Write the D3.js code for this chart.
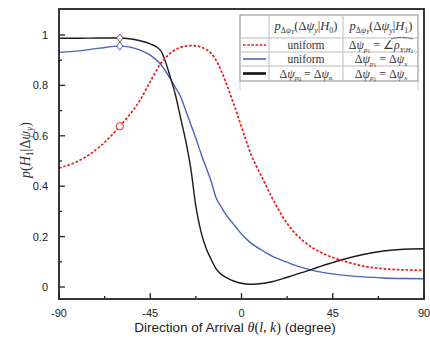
<!DOCTYPE html>
<html><head><meta charset="utf-8">
<script src="https://cdn.jsdelivr.net/npm/d3@7"></script>
<style>body{margin:0;background:#fff}svg{display:block}</style>
</head><body>
<svg id="c" width="430" height="342"></svg>
<script>
const theta = [-90,-80,-70,-60,-50,-45,-40,-35,-32.5,-30,-27.5,-25,-22.5,-20,-17.5,-15,-12.5,-10,-7.5,-5,-2.5,0,2.5,5,7.5,10,12.5,15,17.5,20,25,30,35,40,45,50,60,70,80,90];
const redUniformHat = [0.472,0.502,0.556,0.638,0.742,0.815,0.885,0.928,0.942,0.951,0.956,0.958,0.957,0.952,0.943,0.927,0.899,0.858,0.808,0.752,0.695,0.635,0.575,0.52,0.477,0.437,0.395,0.355,0.318,0.283,0.226,0.186,0.156,0.134,0.117,0.104,0.083,0.072,0.068,0.066];
const blueUniformX = [0.931,0.937,0.948,0.956,0.94,0.92,0.885,0.825,0.79,0.755,0.70,0.645,0.59,0.53,0.475,0.42,0.353,0.318,0.285,0.26,0.235,0.21,0.19,0.172,0.158,0.146,0.134,0.123,0.114,0.106,0.09,0.077,0.066,0.058,0.052,0.047,0.04,0.036,0.034,0.033];
const blackNX = [0.987,0.987,0.988,0.988,0.977,0.965,0.94,0.83,0.76,0.67,0.58,0.47,0.32,0.22,0.155,0.11,0.072,0.05,0.037,0.027,0.02,0.015,0.012,0.011,0.012,0.014,0.017,0.021,0.026,0.032,0.045,0.058,0.071,0.085,0.097,0.109,0.129,0.143,0.15,0.152];
const markerTheta = -60;
const xTicks = [-90,-45,0,45,90];
const xMinor = [-67.5,-22.5,22.5,67.5];
const yTicks = [0,0.2,0.4,0.6,0.8,1];
const yTickLabels = ["0","0.2","0.4","0.6","0.8","1"];
const yMinor = [0.1,0.3,0.5,0.7,0.9];

const svg = d3.select("#c");
const L=59,R=424,T=9,B=299;
const x = d3.scaleLinear().domain([-90,90]).range([L,R]);
const y = d3.scaleLinear().domain([0,1]).range([287,35]);

const series = [
  {v: redUniformHat, color:"#f01818", dash:"2.6,1.8", w:1.7, marker:"circle"},
  {v: blueUniformX, color:"#4a64bd", dash:null, w:1.4, marker:"diamond", mstroke:"#4a64bd"},
  {v: blackNX, color:"#1a1a1a", dash:null, w:1.4, marker:"diamond", mstroke:"#555"}
];
const line = d3.line().x(d=>x(d[0])).y(d=>y(d[1])).curve(d3.curveMonotoneX);
const g = svg.append("g");
g.append("defs").append("clipPath").attr("id","cp").append("rect").attr("x",L).attr("y",T).attr("width",R-L).attr("height",B-T);
const plot = g.append("g").attr("clip-path","url(#cp)");
[series[1],series[2],series[0]].forEach(s=>{
  const pts = theta.map((t,i)=>[t,s.v[i]]);
  const p = plot.append("path").attr("d",line(pts)).attr("fill","none").attr("stroke",s.color).attr("stroke-width",s.w);
  if(s.dash) p.attr("stroke-dasharray",s.dash);
  const mi = theta.indexOf(markerTheta);
  const mx = x(markerTheta), my = y(s.v[mi]);
  if(s.marker==="circle"){
    plot.append("circle").attr("cx",mx).attr("cy",my).attr("r",3.6).attr("fill","#fff").attr("stroke",s.color).attr("stroke-width",1);
  } else {
    const r=4;
    plot.append("path").attr("d",`M${mx},${my-r}L${mx+r*0.8},${my}L${mx},${my+r}L${mx-r*0.8},${my}Z`).attr("fill","#fff").attr("stroke",s.mstroke).attr("stroke-width",1);
  }
});

g.append("rect").attr("x",L).attr("y",T).attr("width",R-L).attr("height",B-T).attr("fill","none").attr("stroke","#222").attr("stroke-width",1.8);

const tk = g.append("g").attr("stroke","#222").attr("stroke-width",1.3);
xTicks.forEach(t=>tk.append("line").attr("x1",x(t)).attr("x2",x(t)).attr("y1",B).attr("y2",B-6));
xMinor.forEach(t=>tk.append("line").attr("x1",x(t)).attr("x2",x(t)).attr("y1",B).attr("y2",B-3));
yTicks.forEach(t=>tk.append("line").attr("x1",L).attr("x2",L+6).attr("y1",y(t)).attr("y2",y(t)));
yMinor.forEach(t=>tk.append("line").attr("x1",L).attr("x2",L+3).attr("y1",y(t)).attr("y2",y(t)));

const sans = "'Liberation Sans', Arial, sans-serif";
xTicks.forEach(t=>g.append("text").attr("x",x(t)).attr("y",317).attr("text-anchor","middle").attr("font-family",sans).attr("font-size",11).attr("fill","#222").text(t));
yTicks.forEach((t,i)=>g.append("text").attr("x",48).attr("y",y(t)+4).attr("text-anchor","end").attr("font-family",sans).attr("font-size",11).attr("fill","#222").text(yTickLabels[i]));

const xl = g.append("text").attr("x",235).attr("y",332).attr("text-anchor","middle").attr("font-family",sans).attr("font-size",13.5).attr("fill","#222");
xl.append("tspan").text("Direction of Arrival ");
xl.append("tspan").attr("font-family","'Liberation Serif', serif").attr("font-style","italic").attr("font-size",14).text("θ");
xl.append("tspan").attr("font-family","'Liberation Serif', serif").attr("font-size",14).text("(");
xl.append("tspan").attr("font-family","'Liberation Serif', serif").attr("font-style","italic").attr("font-size",14).text("l, k");
xl.append("tspan").attr("font-family","'Liberation Serif', serif").attr("font-size",14).text(")");
xl.append("tspan").text(" (degree)");

const yl = g.append("text").attr("transform","translate(30,150) rotate(-90)").attr("text-anchor","middle").attr("font-family","'Liberation Serif', serif").attr("font-size",14).attr("fill","#333");
yl.append("tspan").attr("font-style","italic").text("p");
yl.append("tspan").text("(");
yl.append("tspan").attr("font-style","italic").text("H");
yl.append("tspan").attr("font-size",9.5).attr("dy",3).text("1");
yl.append("tspan").attr("dy",-3).text("|Δ");
yl.append("tspan").attr("font-style","italic").text("ψ");
yl.append("tspan").attr("font-style","italic").attr("font-size",9.5).attr("dy",3).text("y");
yl.append("tspan").attr("dy",-3).text(")");

// legend table
const lg = g.append("g");
const lx0=240, lx1=269, lx2=343, lx3=418, ly0=15, ly1=38, ly2=52, ly3=66, ly4=81;
lg.append("rect").attr("x",lx0).attr("y",ly0).attr("width",lx3-lx0).attr("height",ly4-ly0).attr("fill","#fff").attr("stroke","#888").attr("stroke-width",1);
[lx1,lx2].forEach(xx=>lg.append("line").attr("x1",xx).attr("x2",xx).attr("y1",ly0).attr("y2",ly4).attr("stroke","#bbb"));
[ly1,ly2,ly3].forEach(yy=>lg.append("line").attr("x1",lx0).attr("x2",lx3).attr("y1",yy).attr("y2",yy).attr("stroke","#bbb"));
lg.append("line").attr("x1",lx0).attr("x2",lx0).attr("y1",ly4).attr("y2",90).attr("stroke","#ccc");
lg.append("line").attr("x1",lx3).attr("x2",lx3).attr("y1",ly4).attr("y2",90).attr("stroke","#ccc");
const rowsY=[45,59,73.5];
const sampleStyle=[{c:"#f01818",d:"2.6,1.6",w:1.4},{c:"#4a64bd",d:null,w:1.6},{c:"#111",d:null,w:2.6}];
sampleStyle.forEach((s,i)=>{const l=lg.append("line").attr("x1",243).attr("x2",266).attr("y1",rowsY[i]).attr("y2",rowsY[i]).attr("stroke",s.c).attr("stroke-width",s.w); if(s.d) l.attr("stroke-dasharray",s.d);});
const mathFont="'Liberation Serif', serif";
function hdr(cx, h){
  const t=lg.append("text").attr("x",cx).attr("y",30).attr("text-anchor","middle").attr("font-family",mathFont).attr("font-size",12.5).attr("fill","#333");
  t.append("tspan").attr("font-style","italic").text("p");
  t.append("tspan").attr("font-size",8).attr("dy",2.5).text("Δ");
  t.append("tspan").attr("font-size",8).attr("font-style","italic").text("ψ");
  t.append("tspan").attr("font-size",6).attr("font-style","italic").attr("dy",1.5).text("Y");
  t.append("tspan").attr("dy",-4).text("(Δ");
  t.append("tspan").attr("font-style","italic").text("ψ");
  t.append("tspan").attr("font-size",8).attr("font-style","italic").attr("dy",2.5).text("y");
  t.append("tspan").attr("dy",-2.5).text("|");
  t.append("tspan").attr("font-style","italic").text("H");
  t.append("tspan").attr("font-size",8).attr("dy",2.5).text(h);
  t.append("tspan").attr("dy",-2.5).text(")");
}
hdr(306,"0"); hdr(381,"1");
function eq(cx, cy, sub, subsub, rhs){
  const t=lg.append("text").attr("x",cx).attr("y",cy).attr("text-anchor","middle").attr("font-family",mathFont).attr("font-size",12).attr("fill","#333");
  t.append("tspan").text("Δ");
  t.append("tspan").attr("font-style","italic").text("ψ");
  t.append("tspan").attr("font-size",7).attr("font-style","italic").attr("dy",2.5).text(sub);
  t.append("tspan").attr("font-size",5.5).attr("dy",1).text(subsub);
  t.append("tspan").attr("dy",-3.5).text(" = ");
  rhs(t);
}
const uni=(cy)=>lg.append("text").attr("x",306).attr("y",cy).attr("text-anchor","middle").attr("font-family",mathFont).attr("font-size",11.5).attr("fill","#333").text("uniform");
uni(rowsY[0]+4); uni(rowsY[1]+4);
eq(381,rowsY[0]+4,"p","1",t=>{
  t.append("tspan").text("∠");
  t.append("tspan").attr("font-style","italic").text("ρ");
  t.append("tspan").attr("font-size",7).attr("font-style","italic").attr("dy",2.5).text("Y|H");
  t.append("tspan").attr("font-size",5.5).attr("dy",1).text("1");
});
lg.append("path").attr("d","M391,39 Q401,35.5 413,39").attr("fill","none").attr("stroke","#444").attr("stroke-width",0.7);
eq(381,rowsY[1]+4,"p","1",t=>{t.append("tspan").text("Δ");t.append("tspan").attr("font-style","italic").text("ψ");t.append("tspan").attr("font-size",7).attr("font-style","italic").attr("dy",2.5).text("x");});
eq(381,rowsY[2]+4,"p","1",t=>{t.append("tspan").text("Δ");t.append("tspan").attr("font-style","italic").text("ψ");t.append("tspan").attr("font-size",7).attr("font-style","italic").attr("dy",2.5).text("x");});
eq(306,rowsY[2]+4,"p","0",t=>{t.append("tspan").text("Δ");t.append("tspan").attr("font-style","italic").text("ψ");t.append("tspan").attr("font-size",7).attr("dy",2.5).text("n");});
</script>
</body></html>
